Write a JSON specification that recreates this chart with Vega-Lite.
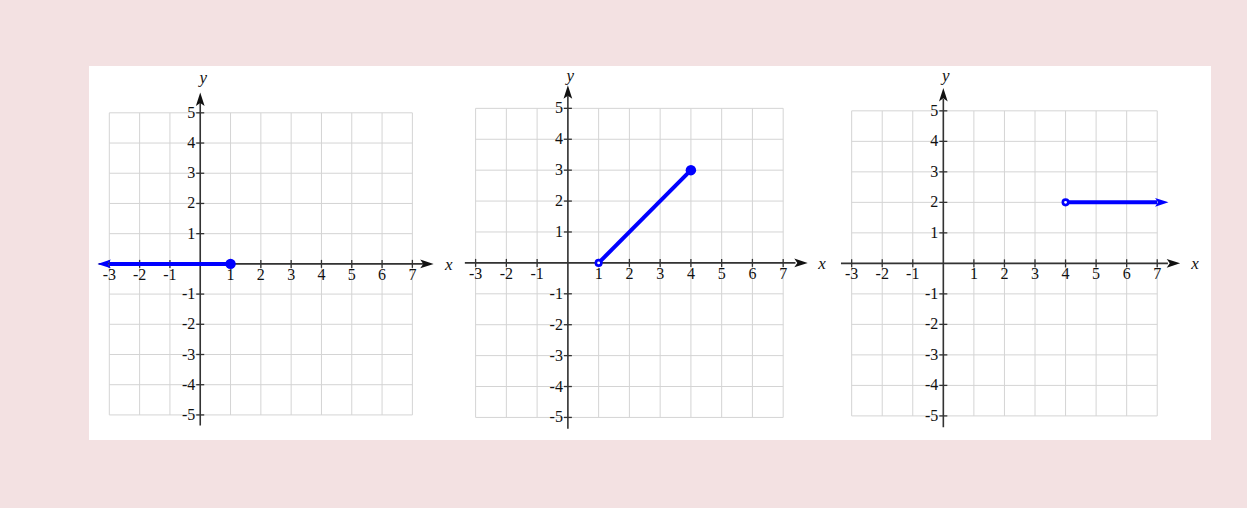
{
  "$schema": "https://vega.github.io/schema/vega-lite/v6.json",
  "background": "#f3e1e2",
  "padding": {"left": 89, "top": 66, "right": 36, "bottom": 68},
  "autosize": {"type": "pad"},
  "spacing": 0,
  "config": {"view": {"stroke": null}},
  "datasets": {
    "gx": [{"v": -3}, {"v": -2}, {"v": -1}, {"v": 0}, {"v": 1}, {"v": 2}, {"v": 3}, {"v": 4}, {"v": 5}, {"v": 6}, {"v": 7}],
    "gy": [{"v": -5}, {"v": -4}, {"v": -3}, {"v": -2}, {"v": -1}, {"v": 0}, {"v": 1}, {"v": 2}, {"v": 3}, {"v": 4}, {"v": 5}],
    "xt": [{"v": -3}, {"v": -2}, {"v": -1}, {"v": 1}, {"v": 2}, {"v": 3}, {"v": 4}, {"v": 5}, {"v": 6}, {"v": 7}],
    "yt": [{"v": -5}, {"v": -4}, {"v": -3}, {"v": -2}, {"v": -1}, {"v": 1}, {"v": 2}, {"v": 3}, {"v": 4}, {"v": 5}],
    "one": [{}]
  },
  "hconcat": [
    {
      "width": 374, "height": 374,
      "view": {"fill": "white", "stroke": null},
      "layer": [
        {"data": {"name": "gx"}, "mark": {"type": "rule", "color": "#d4d4d4", "strokeWidth": 1},
         "encoding": {"x": {"field": "v", "type": "quantitative", "scale": {"domain": [-3.67, 8.67], "nice": false, "zero": false}, "axis": null},
                      "y": {"datum": -5, "type": "quantitative", "scale": {"domain": [-5.83, 6.55], "nice": false, "zero": false}, "axis": null}, "y2": {"datum": 5}}},
        {"data": {"name": "gy"}, "mark": {"type": "rule", "color": "#d4d4d4", "strokeWidth": 1},
         "encoding": {"y": {"field": "v", "type": "quantitative", "scale": {"domain": [-5.83, 6.55], "nice": false, "zero": false}, "axis": null},
                      "x": {"datum": -3, "type": "quantitative", "scale": {"domain": [-3.67, 8.67], "nice": false, "zero": false}, "axis": null}, "x2": {"datum": 7}}},
        {"data": {"name": "one"}, "mark": {"type": "rule", "color": "#333", "strokeWidth": 1.6},
         "encoding": {"x": {"datum": -3.35, "type": "quantitative"}, "x2": {"datum": 7.35}, "y": {"datum": 0, "type": "quantitative"}}},
        {"data": {"name": "one"}, "mark": {"type": "rule", "color": "#333", "strokeWidth": 1.6},
         "encoding": {"x": {"datum": 0, "type": "quantitative"}, "y": {"datum": -5.35, "type": "quantitative"}, "y2": {"datum": 5.35}}},
        {"data": {"name": "one"}, "mark": {"type": "point", "shape": "M1,0L-1,-0.65L-0.55,0L-1,0.65Z", "size": 180, "filled": true, "color": "#111", "opacity": 1},
         "encoding": {"x": {"datum": 7.48, "type": "quantitative"}, "y": {"datum": 0, "type": "quantitative"}}},
        {"data": {"name": "one"}, "mark": {"type": "point", "shape": "M0,-1L-0.65,1L0,0.55L0.65,1Z", "size": 180, "filled": true, "color": "#111", "opacity": 1},
         "encoding": {"x": {"datum": 0, "type": "quantitative"}, "y": {"datum": 5.45, "type": "quantitative"}}},
        {"data": {"name": "xt"}, "mark": {"type": "tick", "orient": "vertical", "size": 8, "thickness": 1.3, "color": "#333", "opacity": 1},
         "encoding": {"x": {"field": "v", "type": "quantitative"}, "y": {"datum": 0, "type": "quantitative"}}},
        {"data": {"name": "yt"}, "mark": {"type": "tick", "orient": "horizontal", "size": 8, "thickness": 1.3, "color": "#333", "opacity": 1},
         "encoding": {"y": {"field": "v", "type": "quantitative"}, "x": {"datum": 0, "type": "quantitative"}}},
        {"data": {"name": "xt"}, "mark": {"type": "text", "font": "Liberation Serif", "fontSize": 16, "color": "#111", "align": "center", "baseline": "middle", "dy": 11},
         "encoding": {"x": {"field": "v", "type": "quantitative"}, "y": {"datum": 0, "type": "quantitative"}, "text": {"field": "v", "type": "nominal"}}},
        {"data": {"name": "yt"}, "mark": {"type": "text", "font": "Liberation Serif", "fontSize": 16, "color": "#111", "align": "right", "baseline": "middle", "dx": -5},
         "encoding": {"y": {"field": "v", "type": "quantitative"}, "x": {"datum": 0, "type": "quantitative"}, "text": {"field": "v", "type": "nominal"}}},
        {"data": {"name": "one"}, "mark": {"type": "text", "text": "x", "font": "Liberation Serif", "fontStyle": "italic", "fontSize": 17, "color": "#111", "align": "center", "baseline": "middle", "dy": 1},
         "encoding": {"x": {"datum": 8.2, "type": "quantitative"}, "y": {"datum": 0, "type": "quantitative"}}},
        {"data": {"name": "one"}, "mark": {"type": "text", "text": "y", "font": "Liberation Serif", "fontStyle": "italic", "fontSize": 17, "color": "#111", "align": "center", "baseline": "middle"},
         "encoding": {"x": {"datum": 0.1, "type": "quantitative"}, "y": {"datum": 6.15, "type": "quantitative"}}},
        {"data": {"values": [{"x": -3.0, "y": 0}, {"x": 1, "y": 0}]}, "mark": {"type": "line", "color": "#0000ff", "strokeWidth": 4},
         "encoding": {"x": {"field": "x", "type": "quantitative"}, "y": {"field": "y", "type": "quantitative"}}},
        {"data": {"values": [{"x": -3.17, "y": 0}]}, "mark": {"type": "point", "shape": "M-1,0L1,-0.65L0.55,0L1,0.65Z", "size": 180, "filled": true, "color": "#0000ff", "opacity": 1},
         "encoding": {"x": {"field": "x", "type": "quantitative"}, "y": {"field": "y", "type": "quantitative"}}},
        {"data": {"values": [{"x": 1, "y": 0}]}, "mark": {"type": "point", "shape": "circle", "size": 110, "filled": true, "color": "#0000ff", "opacity": 1},
         "encoding": {"x": {"field": "x", "type": "quantitative"}, "y": {"field": "y", "type": "quantitative"}}}
      ]
    },
    {
      "width": 374, "height": 374,
      "view": {"fill": "white", "stroke": null},
      "layer": [
        {"data": {"name": "gx"}, "mark": {"type": "rule", "color": "#d4d4d4", "strokeWidth": 1},
         "encoding": {"x": {"field": "v", "type": "quantitative", "scale": {"domain": [-3.41, 8.75], "nice": false, "zero": false}, "axis": null},
                      "y": {"datum": -5, "type": "quantitative", "scale": {"domain": [-5.73, 6.37], "nice": false, "zero": false}, "axis": null}, "y2": {"datum": 5}}},
        {"data": {"name": "gy"}, "mark": {"type": "rule", "color": "#d4d4d4", "strokeWidth": 1},
         "encoding": {"y": {"field": "v", "type": "quantitative", "scale": {"domain": [-5.73, 6.37], "nice": false, "zero": false}, "axis": null},
                      "x": {"datum": -3, "type": "quantitative", "scale": {"domain": [-3.41, 8.75], "nice": false, "zero": false}, "axis": null}, "x2": {"datum": 7}}},
        {"data": {"name": "one"}, "mark": {"type": "rule", "color": "#333", "strokeWidth": 1.6},
         "encoding": {"x": {"datum": -3.35, "type": "quantitative"}, "x2": {"datum": 7.4}, "y": {"datum": 0, "type": "quantitative"}}},
        {"data": {"name": "one"}, "mark": {"type": "rule", "color": "#333", "strokeWidth": 1.6},
         "encoding": {"x": {"datum": 0, "type": "quantitative"}, "y": {"datum": -5.37, "type": "quantitative"}, "y2": {"datum": 5.4}}},
        {"data": {"name": "one"}, "mark": {"type": "point", "shape": "M1,0L-1,-0.65L-0.55,0L-1,0.65Z", "size": 180, "filled": true, "color": "#111", "opacity": 1},
         "encoding": {"x": {"datum": 7.58, "type": "quantitative"}, "y": {"datum": 0, "type": "quantitative"}}},
        {"data": {"name": "one"}, "mark": {"type": "point", "shape": "M0,-1L-0.65,1L0,0.55L0.65,1Z", "size": 180, "filled": true, "color": "#111", "opacity": 1},
         "encoding": {"x": {"datum": 0, "type": "quantitative"}, "y": {"datum": 5.53, "type": "quantitative"}}},
        {"data": {"name": "xt"}, "mark": {"type": "tick", "orient": "vertical", "size": 8, "thickness": 1.3, "color": "#333", "opacity": 1},
         "encoding": {"x": {"field": "v", "type": "quantitative"}, "y": {"datum": 0, "type": "quantitative"}}},
        {"data": {"name": "yt"}, "mark": {"type": "tick", "orient": "horizontal", "size": 8, "thickness": 1.3, "color": "#333", "opacity": 1},
         "encoding": {"y": {"field": "v", "type": "quantitative"}, "x": {"datum": 0, "type": "quantitative"}}},
        {"data": {"name": "xt"}, "mark": {"type": "text", "font": "Liberation Serif", "fontSize": 16, "color": "#111", "align": "center", "baseline": "middle", "dy": 11},
         "encoding": {"x": {"field": "v", "type": "quantitative"}, "y": {"datum": 0, "type": "quantitative"}, "text": {"field": "v", "type": "nominal"}}},
        {"data": {"name": "yt"}, "mark": {"type": "text", "font": "Liberation Serif", "fontSize": 16, "color": "#111", "align": "right", "baseline": "middle", "dx": -5},
         "encoding": {"y": {"field": "v", "type": "quantitative"}, "x": {"datum": 0, "type": "quantitative"}, "text": {"field": "v", "type": "nominal"}}},
        {"data": {"name": "one"}, "mark": {"type": "text", "text": "x", "font": "Liberation Serif", "fontStyle": "italic", "fontSize": 17, "color": "#111", "align": "center", "baseline": "middle", "dy": 1},
         "encoding": {"x": {"datum": 8.26, "type": "quantitative"}, "y": {"datum": 0, "type": "quantitative"}}},
        {"data": {"name": "one"}, "mark": {"type": "text", "text": "y", "font": "Liberation Serif", "fontStyle": "italic", "fontSize": 17, "color": "#111", "align": "center", "baseline": "middle"},
         "encoding": {"x": {"datum": 0.08, "type": "quantitative"}, "y": {"datum": 6.06, "type": "quantitative"}}},
        {"data": {"values": [{"x": 1, "y": 0}, {"x": 4, "y": 3}]}, "mark": {"type": "line", "color": "#0000ff", "strokeWidth": 4},
         "encoding": {"x": {"field": "x", "type": "quantitative"}, "y": {"field": "y", "type": "quantitative"}}},
        {"data": {"values": [{"x": 4, "y": 3}]}, "mark": {"type": "point", "shape": "circle", "size": 110, "filled": true, "color": "#0000ff", "opacity": 1},
         "encoding": {"x": {"field": "x", "type": "quantitative"}, "y": {"field": "y", "type": "quantitative"}}},
        {"data": {"values": [{"x": 1, "y": 0}]}, "mark": {"type": "point", "shape": "circle", "size": 30, "filled": false, "fill": "white", "stroke": "#0000ff", "strokeWidth": 2.6, "opacity": 1},
         "encoding": {"x": {"field": "x", "type": "quantitative"}, "y": {"field": "y", "type": "quantitative"}}}
      ]
    },
    {
      "width": 374, "height": 374,
      "view": {"fill": "white", "stroke": null},
      "layer": [
        {"data": {"name": "gx"}, "mark": {"type": "rule", "color": "#d4d4d4", "strokeWidth": 1},
         "encoding": {"x": {"field": "v", "type": "quantitative", "scale": {"domain": [-3.48, 8.76], "nice": false, "zero": false}, "axis": null},
                      "y": {"datum": -5, "type": "quantitative", "scale": {"domain": [-5.79, 6.47], "nice": false, "zero": false}, "axis": null}, "y2": {"datum": 5}}},
        {"data": {"name": "gy"}, "mark": {"type": "rule", "color": "#d4d4d4", "strokeWidth": 1},
         "encoding": {"y": {"field": "v", "type": "quantitative", "scale": {"domain": [-5.79, 6.47], "nice": false, "zero": false}, "axis": null},
                      "x": {"datum": -3, "type": "quantitative", "scale": {"domain": [-3.48, 8.76], "nice": false, "zero": false}, "axis": null}, "x2": {"datum": 7}}},
        {"data": {"name": "one"}, "mark": {"type": "rule", "color": "#333", "strokeWidth": 1.6},
         "encoding": {"x": {"datum": -3.35, "type": "quantitative"}, "x2": {"datum": 7.35}, "y": {"datum": 0, "type": "quantitative"}}},
        {"data": {"name": "one"}, "mark": {"type": "rule", "color": "#333", "strokeWidth": 1.6},
         "encoding": {"x": {"datum": 0, "type": "quantitative"}, "y": {"datum": -5.37, "type": "quantitative"}, "y2": {"datum": 5.4}}},
        {"data": {"name": "one"}, "mark": {"type": "point", "shape": "M1,0L-1,-0.65L-0.55,0L-1,0.65Z", "size": 180, "filled": true, "color": "#111", "opacity": 1},
         "encoding": {"x": {"datum": 7.53, "type": "quantitative"}, "y": {"datum": 0, "type": "quantitative"}}},
        {"data": {"name": "one"}, "mark": {"type": "point", "shape": "M0,-1L-0.65,1L0,0.55L0.65,1Z", "size": 180, "filled": true, "color": "#111", "opacity": 1},
         "encoding": {"x": {"datum": 0, "type": "quantitative"}, "y": {"datum": 5.53, "type": "quantitative"}}},
        {"data": {"name": "xt"}, "mark": {"type": "tick", "orient": "vertical", "size": 8, "thickness": 1.3, "color": "#333", "opacity": 1},
         "encoding": {"x": {"field": "v", "type": "quantitative"}, "y": {"datum": 0, "type": "quantitative"}}},
        {"data": {"name": "yt"}, "mark": {"type": "tick", "orient": "horizontal", "size": 8, "thickness": 1.3, "color": "#333", "opacity": 1},
         "encoding": {"y": {"field": "v", "type": "quantitative"}, "x": {"datum": 0, "type": "quantitative"}}},
        {"data": {"name": "xt"}, "mark": {"type": "text", "font": "Liberation Serif", "fontSize": 16, "color": "#111", "align": "center", "baseline": "middle", "dy": 11},
         "encoding": {"x": {"field": "v", "type": "quantitative"}, "y": {"datum": 0, "type": "quantitative"}, "text": {"field": "v", "type": "nominal"}}},
        {"data": {"name": "yt"}, "mark": {"type": "text", "font": "Liberation Serif", "fontSize": 16, "color": "#111", "align": "right", "baseline": "middle", "dx": -5},
         "encoding": {"y": {"field": "v", "type": "quantitative"}, "x": {"datum": 0, "type": "quantitative"}, "text": {"field": "v", "type": "nominal"}}},
        {"data": {"name": "one"}, "mark": {"type": "text", "text": "x", "font": "Liberation Serif", "fontStyle": "italic", "fontSize": 17, "color": "#111", "align": "center", "baseline": "middle", "dy": 1},
         "encoding": {"x": {"datum": 8.24, "type": "quantitative"}, "y": {"datum": 0, "type": "quantitative"}}},
        {"data": {"name": "one"}, "mark": {"type": "text", "text": "y", "font": "Liberation Serif", "fontStyle": "italic", "fontSize": 17, "color": "#111", "align": "center", "baseline": "middle"},
         "encoding": {"x": {"datum": 0.08, "type": "quantitative"}, "y": {"datum": 6.14, "type": "quantitative"}}},
        {"data": {"values": [{"x": 4, "y": 2}, {"x": 7.0, "y": 2}]}, "mark": {"type": "line", "color": "#0000ff", "strokeWidth": 4},
         "encoding": {"x": {"field": "x", "type": "quantitative"}, "y": {"field": "y", "type": "quantitative"}}},
        {"data": {"values": [{"x": 7.15, "y": 2}]}, "mark": {"type": "point", "shape": "M1,0L-1,-0.65L-0.55,0L-1,0.65Z", "size": 180, "filled": true, "color": "#0000ff", "opacity": 1},
         "encoding": {"x": {"field": "x", "type": "quantitative"}, "y": {"field": "y", "type": "quantitative"}}},
        {"data": {"values": [{"x": 4, "y": 2}]}, "mark": {"type": "point", "shape": "circle", "size": 30, "filled": false, "fill": "white", "stroke": "#0000ff", "strokeWidth": 2.6, "opacity": 1},
         "encoding": {"x": {"field": "x", "type": "quantitative"}, "y": {"field": "y", "type": "quantitative"}}}
      ]
    }
  ]
}
